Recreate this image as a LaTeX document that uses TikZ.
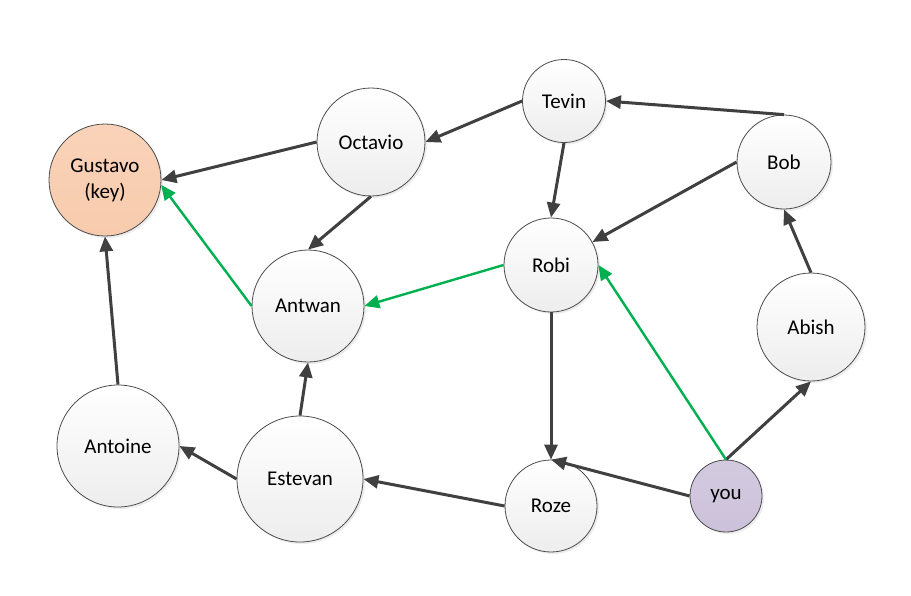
\documentclass[tikz,border=0pt]{standalone}
\usepackage{fontspec}
\setmainfont{Carlito}
\usetikzlibrary{arrows.meta,shadows}

\definecolor{keyfill}{HTML}{F8CBAD}
\definecolor{youfill}{HTML}{CCC1DA}
\definecolor{trustgreen}{HTML}{00B050}
\definecolor{edgegray}{HTML}{404040}

\tikzset{
  person/.style={circle,draw=black!70,line width=0.8pt,top color=white,bottom color=black!7,
    font=\fontsize{21}{26}\selectfont,align=center,inner sep=0pt,
    drop shadow={shadow xshift=2pt,shadow yshift=-2pt,opacity=0.15}},
  link/.style={-{Triangle[length=15pt,width=13pt]},line width=3pt,draw=edgegray},
  chain/.style={-{Triangle[length=15pt,width=13pt]},line width=2.4pt,draw=trustgreen}
}

\begin{document}
\begin{tikzpicture}[x=1pt,y=-1pt]
  \useasboundingbox (0,0) rectangle (911,595);

  % people
  \node[person,minimum size=112pt,top color=keyfill!85,bottom color=keyfill] (gustavo) at (105,180) {Gustavo\\(key)};
  \node[person,minimum size=108pt] (octavio) at (371,142) {Octavio};
  \node[person,minimum size=83pt] (tevin) at (564,101) {Tevin};
  \node[person,minimum size=94pt] (bob) at (784,162) {Bob};
  \node[person,minimum size=94pt] (robi) at (551,265) {Robi};
  \node[person,minimum size=112pt] (antwan) at (308,306) {Antwan};
  \node[person,minimum size=108pt] (abish) at (811,327) {Abish};
  \node[person,minimum size=122pt] (antoine) at (118,446) {Antoine};
  \node[person,minimum size=126pt] (estevan) at (300,479) {Estevan};
  \node[person,minimum size=92pt] (roze) at (551,506) {Roze};
  \node[person,minimum size=72pt,top color=youfill!85,bottom color=youfill] (you) at (726,496) {you};

  % signatures
  \draw[link] (octavio.west) -- (gustavo.east);
  \draw[link] (tevin.west) -- (octavio.east);
  \draw[link] (bob.north) -- (tevin.east);
  \draw[link] (tevin.south) -- (robi.north);
  \draw[link] (bob.west) -- (robi);
  \draw[link] (octavio.south) -- (antwan.north);
  \draw[link] (antoine.north) -- (gustavo.south);
  \draw[link] (estevan.north) -- (antwan.south);
  \draw[link] (estevan.west) -- (antoine.east);
  \draw[link] (roze.west) -- (estevan.east);
  \draw[link] (robi.south) -- (roze.north);
  \draw[link] (you.west) -- (roze.north);
  \draw[link] (you.north) -- (abish.south);
  \draw[link] (abish.north) -- (bob.south);

  % trust path
  \draw[chain] (you.north) -- (robi.east);
  \draw[chain] (robi.west) -- (antwan.east);
  \draw[chain] (antwan.west) -- (gustavo.-5);
\end{tikzpicture}
\end{document}
